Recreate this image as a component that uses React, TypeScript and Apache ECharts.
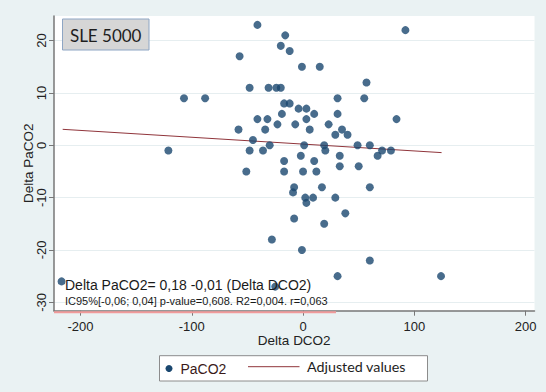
import React, { useEffect, useRef } from "react";
import * as echarts from "echarts";

const deltaDCO2 = [-41, -16, -20, -12, -57, -1, 15, 92, 57, -48, -31, -24, -20, -107, -88, 31, 55, -17, -12, -4, 3, -19, 10, 31, -41, -32, 3, 84, -23, -7, 23, -58, -34, 6, 35, 29, 40, -45, -30, 1, 19, 49, 60, -121, -48, -36, 20, 71, 79, 67, -2, 33, -17, 10, 33, 50, -51, -17, 0, 12, -8, -9, 17, 60, 2, 9, 3, 29, 38, -8, 19, -28, -1, 60, 31, 124, -217, -25];
const deltaPaCO2 = [23, 21, 19, 18, 17, 15, 15, 22, 12, 11, 11, 11, 11, 9, 9, 9, 9, 8, 8, 7, 7, 6, 6, 6, 5, 5, 5, 5, 4, 4, 4, 3, 3, 3, 3, 2, 2, 1, 0, 0, 0, 0, 0, -1, -1, -1, -1, -1, -1, -2, -2, -2, -3, -3, -4, -4, -5, -5, -5, -5, -8, -9, -8, -8, -10, -10, -11, -10, -13, -14, -15, -18, -20, -22, -25, -25, -26, -27];

const fitX = [-216, 124.5];
const fitY = [3.05, -1.4];

const xTicks = [-200, -100, 0, 100, 200];
const yTicks = [-30, -20, -10, 0, 10, 20];

const xMin = -223.8;
const xMax = 208;
const yMin = -31.6;
const yMax = 24.7;

const navy = "#1a476f";
const maroon = "#90353b";
const axisColor = "#777";
const textColor = "#222";
const sansFont = "'Liberation Sans', Arial, sans-serif";
const calibriLike = "Lato, 'Open Sans', sans-serif";

export default function App() {
  const ref = useRef<HTMLDivElement>(null);

  useEffect(() => {
    if (!ref.current) return;
    const chart = echarts.init(ref.current, null, { renderer: "svg" });
    const scatterData = deltaDCO2.map((x, i) => [x, deltaPaCO2[i]]);
    const lineData = fitX.map((x, i) => [x, fitY[i]]);

    chart.setOption({
      animation: false,
      backgroundColor: "#eaf2f3",
      grid: {
        left: 54,
        top: 16,
        right: 11.5,
        bottom: 81.3,
        show: true,
        backgroundColor: "#ffffff",
        borderWidth: 0,
      },
      xAxis: {
        type: "value",
        min: xMin,
        max: xMax,
        name: "Delta DCO2",
        nameLocation: "middle",
        nameGap: 23,
        nameMoveOverlap: false,
        nameTextStyle: { fontFamily: sansFont, fontSize: 13.5, color: textColor },
        axisLine: { show: true, onZero: false, lineStyle: { color: axisColor, width: 1.5 } },
        axisTick: { show: true, length: 5, customValues: xTicks, lineStyle: { color: axisColor } },
        axisLabel: {
          customValues: xTicks,
          margin: 9,
          fontFamily: sansFont,
          fontSize: 13,
          color: textColor,
        },
        splitLine: { show: false },
      },
      yAxis: {
        type: "value",
        min: yMin,
        max: yMax,
        name: "Delta PaCO2",
        nameLocation: "middle",
        nameGap: 19,
        nameMoveOverlap: false,
        nameRotate: 90,
        nameTextStyle: { fontFamily: sansFont, fontSize: 13.5, color: textColor },
        axisLine: { show: true, onZero: false, lineStyle: { color: axisColor, width: 1.5 } },
        axisTick: { show: true, length: 5, customValues: yTicks, lineStyle: { color: axisColor } },
        axisLabel: {
          customValues: yTicks,
          rotate: 90,
          margin: 6,
          fontFamily: sansFont,
          fontSize: 13,
          color: textColor,
        },
        splitLine: { show: true, lineStyle: { color: "#e6eef0", width: 1 } },
      },
      series: [
        {
          name: "PaCO2",
          type: "scatter",
          data: scatterData,
          symbol: "circle",
          symbolSize: 8,
          itemStyle: { color: navy },
          z: 3,
        },
        {
          name: "Adjusted values",
          type: "line",
          data: lineData,
          showSymbol: false,
          symbol: "none",
          lineStyle: { color: maroon, width: 1 },
          z: 2,
        },
      ],
      graphic: [
        {
          type: "line",
          z: 50,
          shape: { x1: 54, y1: 312.3, x2: 336, y2: 312.3 },
          style: { stroke: "#f19a9a", lineWidth: 2 },
        },
        {
          type: "rect",
          z: 50,
          shape: { x: 62.5, y: 19, width: 86.5, height: 31 },
          style: { fill: "#d6d6d6", stroke: "#8ea6c4", lineWidth: 1 },
        },
        {
          type: "text",
          z: 51,
          x: 105.7,
          y: 35,
          style: {
            text: "SLE 5000",
            fontFamily: calibriLike,
            fontSize: 17,
            fill: "#1e1e1e",
            align: "center",
            verticalAlign: "middle",
          },
        },
        {
          type: "text",
          z: 50,
          x: 65,
          y: 284.5,
          style: {
            text: "Delta PaCO2= 0,18 -0,01 (Delta DCO2)",
            fontFamily: sansFont,
            fontSize: 14,
            fill: "#1a1a1a",
            align: "left",
            verticalAlign: "middle",
          },
        },
        {
          type: "text",
          z: 50,
          x: 65,
          y: 301,
          style: {
            text: "IC95%[-0,06; 0,04] p-value=0,608. R2=0,004. r=0,063",
            fontFamily: sansFont,
            fontSize: 11,
            fill: "#1a1a1a",
            align: "left",
            verticalAlign: "middle",
          },
        },
        {
          type: "rect",
          z: 50,
          shape: { x: 159.5, y: 355.7, width: 268, height: 25.3 },
          style: { fill: "#ffffff", stroke: "#8c8c8c", lineWidth: 1 },
        },
        {
          type: "circle",
          z: 51,
          shape: { cx: 169, cy: 368.5, r: 3.5 },
          style: { fill: navy },
        },
        {
          type: "text",
          z: 51,
          x: 180.5,
          y: 369,
          style: {
            text: "PaCO2",
            fontFamily: sansFont,
            fontSize: 14,
            fill: "#3a1a1a",
            align: "left",
            verticalAlign: "middle",
          },
        },
        {
          type: "line",
          z: 51,
          shape: { x1: 248, y1: 366.7, x2: 299.5, y2: 366.7 },
          style: { stroke: maroon, lineWidth: 1 },
        },
        {
          type: "text",
          z: 51,
          x: 307,
          y: 366.5,
          style: {
            text: "Adjusted values",
            fontFamily: calibriLike,
            fontSize: 14.3,
            fill: "#1e1e1e",
            align: "left",
            verticalAlign: "middle",
          },
        },
      ],
    });

    return () => {
      chart.dispose();
    };
  }, []);

  return (
    <div
      ref={ref}
      style={{ position: "fixed", left: 0, top: 0, width: 546, height: 392 }}
    />
  );
}
